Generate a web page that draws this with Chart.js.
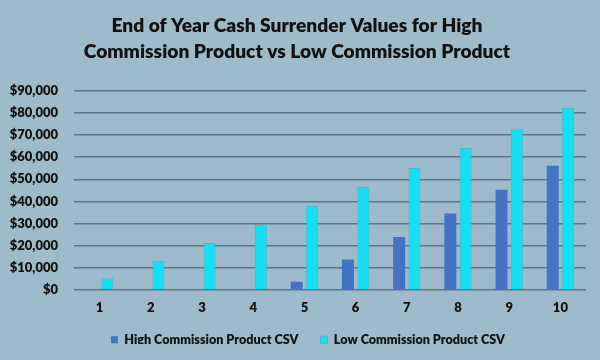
<!DOCTYPE html>
<html>
<head>
<meta charset="utf-8">
<script src="https://cdn.jsdelivr.net/npm/chart.js@4/dist/chart.umd.min.js"></script>
<style>
html,body{margin:0;padding:0;background:#9dbbcb;}
#wrap{width:600px;height:360px;}
</style>
</head>
<body>
<div id="wrap"><canvas id="c" width="600" height="360"></canvas></div>
<script>
const categories = ['1','2','3','4','5','6','7','8','9','10'];
const highCommission = [0, 0, 0, 0, 3600, 13700, 23900, 34500, 45300, 56100];
const lowCommission = [5200, 13100, 21200, 29400, 37900, 46500, 55100, 64100, 73000, 82200];
const seriesNames = ['High Commission Product CSV', 'Low Commission Product CSV'];
const titleLines = ['End of Year Cash Surrender Values for High', 'Commission Product vs Low Commission Product'];

const FONT = 'Lato, "Open Sans", sans-serif';
const LEGEND_SHRINK = 12;
const legendTweak = {
  id: 'legendTweak',
  beforeInit(chart) {
    const lg = chart.legend;
    if (lg && !lg._patched) {
      const orig = lg.fit.bind(lg);
      lg.fit = function () { orig(); this.height -= LEGEND_SHRINK; };
      lg._patched = true;
    }
  },
  afterLayout(chart) {
    const lg = chart.legend;
    if (lg) {
      lg.left += 11; lg.right += 11;
      lg.top -= 6; lg.bottom -= 6;
    }
  }
};
new Chart(document.getElementById('c'), {
  type: 'bar',
  data: {
    labels: categories,
    datasets: [
      { label: seriesNames[0], data: highCommission, backgroundColor: '#4472c4', borderWidth: 0,
        categoryPercentage: 0.6, barPercentage: 0.78 },
      { label: seriesNames[1], data: lowCommission, backgroundColor: '#14e0f4', borderColor: '#3cbfd2', borderWidth: 1,
        categoryPercentage: 0.6, barPercentage: 0.78 }
    ]
  },
  plugins: [legendTweak],
  options: {
    responsive: false,
    animation: false,
    layout: { padding: { left: 8, right: 14, top: 6, bottom: 10 } },
    plugins: {
      title: { display: true, text: titleLines, color: '#111', font: { family: FONT, size: 19.2, weight: 800, lineHeight: 1.35 }, padding: { top: 7, bottom: 26 } },
      legend: { position: 'bottom', labels: { color: '#111', font: { family: FONT, size: 12.6, weight: 800 }, boxWidth: 7, boxHeight: 7, padding: 22 } },
      tooltip: { enabled: false }
    },
    scales: {
      x: {
        grid: { display: false },
        border: { display: false },
        ticks: { color: '#111', font: { family: FONT, size: 13, weight: 800 }, padding: 2 }
      },
      y: {
        min: 0, max: 90000,
        afterFit(scale) { scale.width = 66; },
        ticks: { stepSize: 10000, color: '#111', font: { family: FONT, size: 13, weight: 800 }, padding: 16,
          callback: v => '$' + v.toLocaleString('en-US') },
        grid: { color: '#5f7480', lineWidth: 1.5, drawTicks: false },
        border: { display: false }
      }
    }
  }
});
</script>
</body>
</html>
